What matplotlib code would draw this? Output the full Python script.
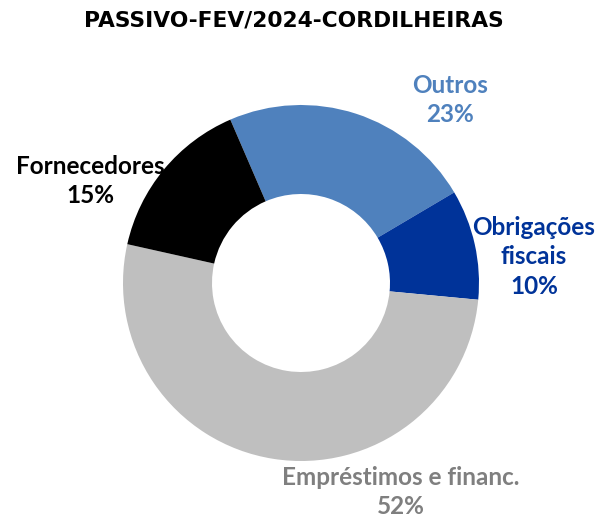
import matplotlib.pyplot as plt

categories = ['Outros', 'Obrigações\nfiscais', 'Empréstimos e financ.', 'Fornecedores']
values = [23, 10, 52, 15]
pct_labels = ['23%', '10%', '52%', '15%']
colors = ['#4F81BD', '#003399', '#BFBFBF', '#000000']
label_colors = ['#4F81BD', '#003399', '#7F7F7F', '#000000']
# label anchor points in pixel coords (x, y from top)
label_pos = [(450, 100), (534, 257), (401, 492), (90, 181)]

W, H = 607, 519


def plot_donut():
    fig = plt.figure(figsize=(W / 100, H / 100), dpi=100)
    ax = fig.add_axes([0, 0, 1, 1])
    ax.set_xlim(0, W)
    ax.set_ylim(0, H)
    ax.set_aspect('equal')
    ax.axis('off')

    ax.pie(values, colors=colors, startangle=113.4, counterclock=False,
           center=(301, H - 283), radius=178,
           wedgeprops=dict(width=89, edgecolor='none'))
    ax.set_xlim(0, W)
    ax.set_ylim(0, H)

    for cat, pct, col, (x, y) in zip(categories, pct_labels, label_colors, label_pos):
        ax.text(x, H - y, cat + '\n' + pct, ha='center', va='center',
                color=col, fontsize=17.5, fontweight='bold', family='Lato',
                linespacing=1.32)

    fig.text(293.5 / W, 1 - 21 / H, 'PASSIVO-FEV/2024-CORDILHEIRAS', ha='center', va='center',
             fontsize=15.7, fontweight='bold', family='DejaVu Sans')

    fig.savefig('out.png', dpi=100)


if __name__ == "__main__":
    plot_donut()
